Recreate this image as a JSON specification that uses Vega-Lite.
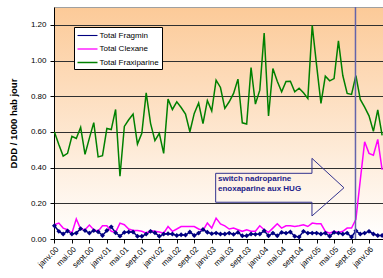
{
  "$schema": "https://vega.github.io/schema/vega-lite/v6.json",
  "width": 329,
  "height": 232,
  "autosize": "none",
  "padding": {"left": 54, "top": 7, "right": 0, "bottom": 39},
  "background": "white",
  "config": {
    "font": "Liberation Sans",
    "axis": {"labelOverlap": false, "labelFlush": false},
    "view": {
      "stroke": null,
      "fill": {"gradient": "linear", "x1": 0, "y1": 0, "x2": 0, "y2": 1,
        "stops": [{"offset": 0, "color": "#FCCA98"}, {"offset": 1, "color": "#FFFFFF"}]}
    }
  },
  "datasets": {
    "series": [
      {"m":0,"Total Fragmin":0.074,"Total Clexane":0.080,"Total Fraxiparine":0.600},
      {"m":1,"Total Fragmin":0.043,"Total Clexane":0.089,"Total Fraxiparine":0.530},
      {"m":2,"Total Fragmin":0.028,"Total Clexane":0.061,"Total Fraxiparine":0.465},
      {"m":3,"Total Fragmin":0.045,"Total Clexane":0.052,"Total Fraxiparine":0.480},
      {"m":4,"Total Fragmin":0.028,"Total Clexane":0.033,"Total Fraxiparine":0.575},
      {"m":5,"Total Fragmin":0.033,"Total Clexane":0.112,"Total Fraxiparine":0.563},
      {"m":6,"Total Fragmin":0.058,"Total Clexane":0.056,"Total Fraxiparine":0.626},
      {"m":7,"Total Fragmin":0.047,"Total Clexane":0.052,"Total Fraxiparine":0.474},
      {"m":8,"Total Fragmin":0.033,"Total Clexane":0.078,"Total Fraxiparine":0.565},
      {"m":9,"Total Fragmin":0.047,"Total Clexane":0.052,"Total Fraxiparine":0.652},
      {"m":10,"Total Fragmin":0.041,"Total Clexane":0.043,"Total Fraxiparine":0.460},
      {"m":11,"Total Fragmin":0.020,"Total Clexane":0.074,"Total Fraxiparine":0.467},
      {"m":12,"Total Fragmin":0.048,"Total Clexane":0.074,"Total Fraxiparine":0.619},
      {"m":13,"Total Fragmin":0.068,"Total Clexane":0.043,"Total Fraxiparine":0.613},
      {"m":14,"Total Fragmin":0.035,"Total Clexane":0.037,"Total Fraxiparine":0.726},
      {"m":15,"Total Fragmin":0.016,"Total Clexane":0.089,"Total Fraxiparine":0.352},
      {"m":16,"Total Fragmin":0.037,"Total Clexane":0.080,"Total Fraxiparine":0.631},
      {"m":17,"Total Fragmin":0.039,"Total Clexane":0.056,"Total Fraxiparine":0.668},
      {"m":18,"Total Fragmin":0.039,"Total Clexane":0.048,"Total Fraxiparine":0.700},
      {"m":19,"Total Fragmin":0.015,"Total Clexane":0.048,"Total Fraxiparine":0.532},
      {"m":20,"Total Fragmin":0.015,"Total Clexane":0.043,"Total Fraxiparine":0.592},
      {"m":21,"Total Fragmin":0.028,"Total Clexane":0.033,"Total Fraxiparine":0.819},
      {"m":22,"Total Fragmin":0.043,"Total Clexane":0.048,"Total Fraxiparine":0.648},
      {"m":23,"Total Fragmin":0.035,"Total Clexane":0.043,"Total Fraxiparine":0.551},
      {"m":24,"Total Fragmin":0.015,"Total Clexane":0.039,"Total Fraxiparine":0.592},
      {"m":25,"Total Fragmin":0.028,"Total Clexane":0.033,"Total Fraxiparine":0.480},
      {"m":26,"Total Fragmin":0.030,"Total Clexane":0.070,"Total Fraxiparine":0.784},
      {"m":27,"Total Fragmin":0.028,"Total Clexane":0.043,"Total Fraxiparine":0.726},
      {"m":28,"Total Fragmin":0.020,"Total Clexane":0.056,"Total Fraxiparine":0.769},
      {"m":29,"Total Fragmin":0.024,"Total Clexane":0.070,"Total Fraxiparine":0.737},
      {"m":30,"Total Fragmin":0.022,"Total Clexane":0.070,"Total Fraxiparine":0.700},
      {"m":31,"Total Fragmin":0.039,"Total Clexane":0.070,"Total Fraxiparine":0.601},
      {"m":32,"Total Fragmin":0.020,"Total Clexane":0.070,"Total Fraxiparine":0.704},
      {"m":33,"Total Fragmin":0.033,"Total Clexane":0.056,"Total Fraxiparine":0.762},
      {"m":34,"Total Fragmin":0.053,"Total Clexane":0.048,"Total Fraxiparine":0.646},
      {"m":35,"Total Fragmin":0.038,"Total Clexane":0.089,"Total Fraxiparine":0.776},
      {"m":36,"Total Fragmin":0.030,"Total Clexane":0.061,"Total Fraxiparine":0.718},
      {"m":37,"Total Fragmin":0.033,"Total Clexane":0.117,"Total Fraxiparine":0.890},
      {"m":38,"Total Fragmin":0.028,"Total Clexane":0.085,"Total Fraxiparine":0.849},
      {"m":39,"Total Fragmin":0.028,"Total Clexane":0.074,"Total Fraxiparine":0.732},
      {"m":40,"Total Fragmin":0.033,"Total Clexane":0.056,"Total Fraxiparine":0.769},
      {"m":41,"Total Fragmin":0.026,"Total Clexane":0.061,"Total Fraxiparine":0.816},
      {"m":42,"Total Fragmin":0.037,"Total Clexane":0.052,"Total Fraxiparine":0.896},
      {"m":43,"Total Fragmin":0.018,"Total Clexane":0.043,"Total Fraxiparine":0.651},
      {"m":44,"Total Fragmin":0.018,"Total Clexane":0.052,"Total Fraxiparine":0.644},
      {"m":45,"Total Fragmin":0.028,"Total Clexane":0.043,"Total Fraxiparine":0.961},
      {"m":46,"Total Fragmin":0.026,"Total Clexane":0.043,"Total Fraxiparine":0.756},
      {"m":47,"Total Fragmin":0.028,"Total Clexane":0.074,"Total Fraxiparine":0.834},
      {"m":48,"Total Fragmin":0.046,"Total Clexane":0.052,"Total Fraxiparine":1.154},
      {"m":49,"Total Fragmin":0.018,"Total Clexane":0.037,"Total Fraxiparine":0.689},
      {"m":50,"Total Fragmin":0.033,"Total Clexane":0.061,"Total Fraxiparine":0.955},
      {"m":51,"Total Fragmin":0.018,"Total Clexane":0.085,"Total Fraxiparine":0.884},
      {"m":52,"Total Fragmin":0.037,"Total Clexane":0.061,"Total Fraxiparine":0.825},
      {"m":53,"Total Fragmin":0.033,"Total Clexane":0.074,"Total Fraxiparine":0.883},
      {"m":54,"Total Fragmin":0.039,"Total Clexane":0.074,"Total Fraxiparine":0.884},
      {"m":55,"Total Fragmin":0.015,"Total Clexane":0.070,"Total Fraxiparine":0.825},
      {"m":56,"Total Fragmin":0.011,"Total Clexane":0.074,"Total Fraxiparine":0.845},
      {"m":57,"Total Fragmin":0.043,"Total Clexane":0.080,"Total Fraxiparine":0.819},
      {"m":58,"Total Fragmin":0.033,"Total Clexane":0.070,"Total Fraxiparine":0.788},
      {"m":59,"Total Fragmin":0.033,"Total Clexane":0.089,"Total Fraxiparine":1.197},
      {"m":60,"Total Fragmin":0.033,"Total Clexane":0.085,"Total Fraxiparine":0.974},
      {"m":61,"Total Fragmin":0.028,"Total Clexane":0.085,"Total Fraxiparine":0.760},
      {"m":62,"Total Fragmin":0.033,"Total Clexane":0.043,"Total Fraxiparine":0.912},
      {"m":63,"Total Fragmin":0.015,"Total Clexane":0.033,"Total Fraxiparine":0.886},
      {"m":64,"Total Fragmin":0.037,"Total Clexane":0.043,"Total Fraxiparine":0.899},
      {"m":65,"Total Fragmin":0.033,"Total Clexane":0.037,"Total Fraxiparine":1.110},
      {"m":66,"Total Fragmin":0.028,"Total Clexane":0.043,"Total Fraxiparine":0.916},
      {"m":67,"Total Fragmin":0.033,"Total Clexane":0.061,"Total Fraxiparine":0.816},
      {"m":68,"Total Fragmin":0.011,"Total Clexane":0.061,"Total Fraxiparine":0.810},
      {"m":69,"Total Fragmin":0.046,"Total Clexane":0.110,"Total Fraxiparine":0.916},
      {"m":70,"Total Fragmin":0.028,"Total Clexane":0.330,"Total Fraxiparine":0.782},
      {"m":71,"Total Fragmin":0.033,"Total Clexane":0.545,"Total Fraxiparine":0.739},
      {"m":72,"Total Fragmin":0.043,"Total Clexane":0.480,"Total Fraxiparine":0.690},
      {"m":73,"Total Fragmin":0.028,"Total Clexane":0.470,"Total Fraxiparine":0.603},
      {"m":74,"Total Fragmin":0.020,"Total Clexane":0.558,"Total Fraxiparine":0.724},
      {"m":75,"Total Fragmin":0.020,"Total Clexane":0.388,"Total Fraxiparine":0.580}
    ],
    "arrow": [
      {"k":0,"x":36.9,"y":0.368},
      {"k":1,"x":58.94,"y":0.368},
      {"k":2,"x":58.94,"y":0.452},
      {"k":3,"x":66.26,"y":0.287},
      {"k":4,"x":58.94,"y":0.129},
      {"k":5,"x":58.94,"y":0.206},
      {"k":6,"x":36.9,"y":0.206},
      {"k":7,"x":36.9,"y":0.368}
    ],
    "note": [
      {"x":37.43,"y":0.327,"text":"switch nadroparine\nenoxaparine aux HUG"}
    ]
  },
  "layer": [
    {
      "data": {"name": "series"},
      "transform": [{"fold": ["Total Fragmin", "Total Clexane", "Total Fraxiparine"], "as": ["series", "value"]}],
      "mark": {"type": "line", "strokeWidth": 1.5},
      "encoding": {
        "x": {"field": "m", "type": "quantitative", "title": null,
          "scale": {"domain": [-0.1, 75.2], "nice": false, "zero": false},
          "axis": {"values": [0,4,8,12,16,20,24,28,32,36,40,44,48,52,56,60,64,68,72], "tickCount": 200,
            "labelExpr": "['janv','févr','mars','avr','mai','juin','juil','août','sept','oct','nov','déc'][datum.value % 12] + '.0' + floor(datum.value / 12)",
            "labelAngle": -45, "labelFontSize": 8, "labelColor": "black", "labelPadding": 2,
            "tickColor": "black", "tickSize": 4, "domainColor": "black", "grid": false, "labelOverlap": false}},
        "y": {"field": "value", "type": "quantitative", "title": "DDD / 1000 hab jour",
          "scale": {"domain": [0, 1.3], "nice": false},
          "axis": {"values": [0, 0.2, 0.4, 0.6, 0.8, 1.0, 1.2, 1.3], "tickCount": 200, "format": ".2f",
            "labelExpr": "datum.value > 1.25 ? '' : datum.label", "labelOverlap": false,
            "labelFontSize": 8, "labelColor": "black", "labelPadding": 4,
            "tickSize": 4, "tickColor": {"condition": {"test": "datum.value > 1.25", "value": "transparent"}, "value": "black"},
            "domainColor": "black",
            "gridColor": {"condition": {"test": "datum.value > 1.25", "value": "#a0a0a0"}, "value": "#303030"},
            "gridOpacity": 1, "gridWidth": 1,
            "titleFontSize": 9.5, "titleFontWeight": "bold", "titleColor": "black", "titlePadding": 12}},
        "color": {"field": "series", "type": "nominal",
          "scale": {"domain": ["Total Fragmin", "Total Clexane", "Total Fraxiparine"], "range": ["#000080", "#FF00FF", "#008000"]},
          "legend": {"orient": "none", "legendX": 20, "legendY": 20, "title": null,
            "fillColor": "white", "strokeColor": "black", "padding": 2.5,
            "symbolType": "M-1,0H3", "symbolSize": 100, "symbolStrokeWidth": 1.5,
            "labelFontSize": 8, "labelColor": "black", "labelOffset": 11, "rowPadding": 3.5}},
        "strokeWidth": {"field": "series", "type": "nominal",
          "scale": {"domain": ["Total Fragmin", "Total Clexane", "Total Fraxiparine"], "range": [1.1, 1.5, 1.6]},
          "legend": null}
      }
    },
    {
      "data": {"name": "series"},
      "mark": {"type": "point", "shape": "diamond", "filled": true, "size": 24, "color": "#000080", "opacity": 1},
      "encoding": {
        "x": {"field": "m", "type": "quantitative", "title": null},
        "y": {"field": "Total Fragmin", "type": "quantitative", "title": "DDD / 1000 hab jour"}
      }
    },
    {
      "data": {"values": [{"x": 68.9}]},
      "mark": {"type": "rule", "color": "#6464aa", "strokeWidth": 1.5},
      "encoding": {"x": {"field": "x", "type": "quantitative", "title": null}}
    },
    {
      "data": {"name": "arrow"},
      "mark": {"type": "line", "color": "#33338f", "strokeWidth": 1},
      "encoding": {
        "x": {"field": "x", "type": "quantitative", "title": null},
        "y": {"field": "y", "type": "quantitative", "title": "DDD / 1000 hab jour"},
        "order": {"field": "k", "type": "quantitative"}
      }
    },
    {
      "data": {"name": "note"},
      "mark": {"type": "text", "align": "left", "baseline": "alphabetic", "fontSize": 8, "fontWeight": "bold", "color": "#22228a", "lineBreak": "\n", "lineHeight": 10},
      "encoding": {
        "x": {"field": "x", "type": "quantitative", "title": null},
        "y": {"field": "y", "type": "quantitative", "title": "DDD / 1000 hab jour"},
        "text": {"field": "text"}
      }
    }
  ]
}
